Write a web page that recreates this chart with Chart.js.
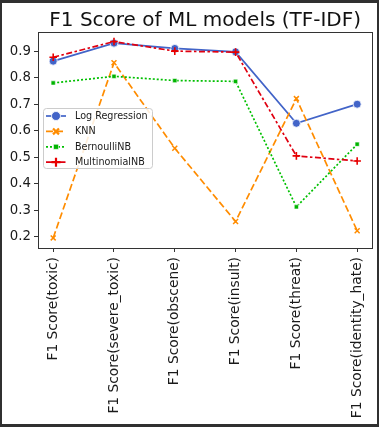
<!DOCTYPE html>
<html>
<head>
<meta charset="utf-8">
<script src="https://cdn.jsdelivr.net/npm/chart.js@4/dist/chart.umd.min.js"></script>
<style>
html,body{margin:0;padding:0;background:#fff;}
canvas{display:block;}
</style>
</head>
<body>
<canvas id="c" width="379" height="427"></canvas>
<script>
const chartTitle = "F1 Score of ML models (TF-IDF)";
const categories = ["F1 Score(toxic)", "F1 Score(severe_toxic)", "F1 Score(obscene)", "F1 Score(insult)", "F1 Score(threat)", "F1 Score(identity_hate)"];
const seriesNames = ["Log Regression", "KNN", "BernoulliNB", "MultinomialNB"];
const logRegression = [0.862, 0.930, 0.910, 0.897, 0.628, 0.700];
const knn = [0.196, 0.856, 0.534, 0.258, 0.721, 0.223];
const bernoulliNB = [0.780, 0.805, 0.789, 0.786, 0.313, 0.549];
const multinomialNB = [0.877, 0.936, 0.900, 0.896, 0.505, 0.486];
const yTicks = [0.2, 0.3, 0.4, 0.5, 0.6, 0.7, 0.8, 0.9];

const FONT = "'DejaVu Sans', sans-serif";
const styles = [
  {color:'#4264c8', dash:[], point:'circle', radius:4, bw:0.8, pb:'#ffffff', fill:'#4264c8', order:3, lw:1.7, lr:4.5},
  {color:'#ff8c00', dash:[7,3], point:'crossRot', radius:3.5, bw:1.5, pb:'#ff8c00', fill:'#ff8c00', order:2, lw:1.7, lr:4.2},
  {color:'#00c000', dash:[2,2], point:'rect', radius:3, bw:0.6, pb:'#ffffff', fill:'#00b400', order:1, lw:1.7, lr:3.6},
  {color:'#e00010', dash:[6,2.5,2.5,2.5], point:'cross', radius:3.8, bw:1.6, pb:'#e80000', fill:'#e80000', order:0, lw:1.7, lr:4.5}
];
const allSeries = [logRegression, knn, bernoulliNB, multinomialNB];

const datasets = allSeries.map((vals, k) => ({
  label: seriesNames[k],
  data: vals.map((v, i) => ({x: i, y: v})),
  borderColor: styles[k].color,
  borderWidth: styles[k].lw,
  borderDash: styles[k].dash,
  backgroundColor: styles[k].fill,
  pointStyle: styles[k].point,
  pointRadius: styles[k].radius,
  pointBorderWidth: styles[k].bw,
  pointBorderColor: styles[k].pb,
  pointBackgroundColor: styles[k].fill,
  tension: 0,
  fill: false,
  order: styles[k].order
}));

const framePlugin = {
  id: 'frame',
  beforeDraw(chart) {
    const ctx = chart.ctx;
    ctx.save();
    ctx.fillStyle = '#ffffff';
    ctx.fillRect(0, 0, chart.width, chart.height);
    ctx.restore();
  },
  afterDraw(chart) {
    const ctx = chart.ctx;
    const a = chart.chartArea;
    ctx.save();
    ctx.strokeStyle = '#333333';
    ctx.lineWidth = 1;
    ctx.strokeRect(Math.round(a.left) + 0.5, Math.round(a.top) + 0.5, Math.round(a.right - a.left), Math.round(a.bottom - a.top));
    ctx.fillStyle = '#111111';
    ctx.font = "20px " + FONT;
    ctx.textAlign = 'center';
    ctx.textBaseline = 'alphabetic';
    ctx.fillText(chartTitle, (a.left + a.right) / 2, 26);
    const lx = 43.5, ly = 108.5, lw = 109, lh = 60;
    ctx.beginPath();
    if (ctx.roundRect) ctx.roundRect(lx, ly, lw, lh, 3); else ctx.rect(lx, ly, lw, lh);
    ctx.fillStyle = 'rgba(255,255,255,0.85)';
    ctx.fill();
    ctx.strokeStyle = '#cccccc';
    ctx.lineWidth = 1;
    ctx.stroke();
    ctx.font = "9.6px " + FONT;
    ctx.textAlign = 'left';
    ctx.textBaseline = 'middle';
    seriesNames.forEach((name, k) => {
      const y = 116 + k * 15.4;
      const s = styles[k];
      ctx.save();
      ctx.strokeStyle = s.color;
      ctx.lineWidth = s.lw;
      ctx.setLineDash(s.dash);
      ctx.beginPath();
      ctx.moveTo(46, y);
      ctx.lineTo(66, y);
      ctx.stroke();
      ctx.restore();
      ctx.save();
      ctx.strokeStyle = s.pb;
      ctx.fillStyle = s.fill;
      ctx.lineWidth = s.point === 'crossRot' || s.point === 'cross' ? 2.2 : s.bw;
      Chart.helpers.drawPoint(ctx, {pointStyle: s.point, radius: s.lr, rotation: 0, borderWidth: s.bw}, 56, y);
      ctx.restore();
      ctx.fillStyle = '#1a1a1a';
      ctx.fillText(name, 75, y + 0.5);
    });
    ctx.restore();
    ctx.save();
    ctx.fillStyle = '#303030';
    ctx.fillRect(0, 0, chart.width, 3);
    ctx.fillRect(0, 0, 2, chart.height);
    ctx.fillRect(0, chart.height - 3, chart.width, 3);
    ctx.fillRect(chart.width - 2, 0, 2, chart.height);
    ctx.restore();
  }
};

new Chart(document.getElementById('c'), {
  type: 'line',
  data: { datasets },
  plugins: [framePlugin],
  options: {
    responsive: false,
    animation: false,
    events: [],
    layout: { padding: { top: 32, left: 0, right: 6, bottom: 0 } },
    plugins: { legend: { display: false }, title: { display: false }, tooltip: { enabled: false } },
    scales: {
      x: {
        type: 'linear',
        min: -0.25,
        max: 5.25,
        afterBuildTicks(scale) { scale.ticks = categories.map((c, i) => ({ value: i })); },
        afterFit(scale) { scale.height = 179; },
        grid: { drawOnChartArea: false, drawTicks: true, tickLength: 4, color: '#333333' },
        border: { display: true, color: '#333333' },
        ticks: {
          autoSkip: false,
          minRotation: 90,
          maxRotation: 90,
          padding: 5,
          color: '#1a1a1a',
          font: { family: FONT, size: 13.8 },
          callback: (v) => categories[v]
        }
      },
      y: {
        min: 0.158,
        max: 0.972,
        afterBuildTicks(scale) { scale.ticks = yTicks.map(v => ({ value: v })); },
        afterFit(scale) { scale.width = 38; },
        grid: { drawOnChartArea: false, drawTicks: true, tickLength: 4, color: '#333333' },
        border: { display: true, color: '#333333' },
        ticks: {
          padding: 3,
          color: '#1a1a1a',
          font: { family: FONT, size: 13.3 },
          callback: (v) => Number(v).toFixed(1)
        }
      }
    }
  }
});
</script>
</body>
</html>
